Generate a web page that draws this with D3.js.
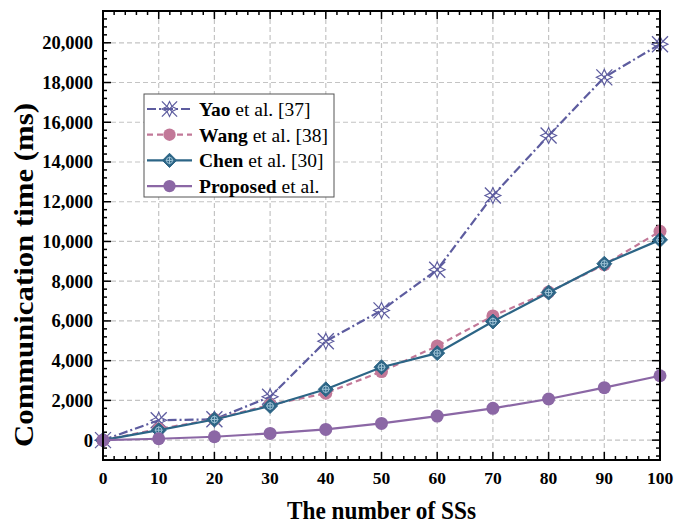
<!DOCTYPE html>
<html>
<head>
<meta charset="utf-8">
<script src="https://cdn.jsdelivr.net/npm/d3@7"></script>
<style>
  body { margin: 0; background: #fff; }
</style>
</head>
<body>
<script>
// data
const ssCounts = [0, 10, 20, 30, 40, 50, 60, 70, 80, 90, 100];
const yaoTimes = [0, 1000, 1050, 2180, 4980, 6530, 8580, 12310, 15330, 18260, 19930];
const wangTimes = [0, 560, 1050, 1780, 2360, 3450, 4740, 6250, 7450, 8830, 10510];
const chenTimes = [0, 500, 1040, 1720, 2560, 3670, 4380, 5970, 7430, 8880, 10080];
const proposedTimes = [0, 70, 170, 340, 540, 840, 1210, 1600, 2070, 2640, 3240];
const yTickValues = [0, 2000, 4000, 6000, 8000, 10000, 12000, 14000, 16000, 18000, 20000];

const series = [
  { bold: "Yao", rest: " et al. [37]", values: yaoTimes, color: "#5d5c9f", dash: "9,3,2,3", marker: "star" },
  { bold: "Wang", rest: " et al. [38]", values: wangTimes, color: "#c27898", dash: "6,4", marker: "circle" },
  { bold: "Chen", rest: " et al. [30]", values: chenTimes, color: "#2c6586", dash: null, marker: "diamond" },
  { bold: "Proposed", rest: " et al.", values: proposedTimes, color: "#8b67a5", dash: null, marker: "circle" }
];

const width = 676, height = 527;
const margin = { left: 103, right: 16, top: 11, bottom: 67 };
const serif = "'Liberation Serif', 'Times New Roman', 'DejaVu Serif', serif";

const svg = d3.select("body").append("svg")
  .attr("width", width)
  .attr("height", height)
  .attr("font-family", serif)
  .style("font-family", serif);

const x = d3.scaleLinear().domain([0, 100]).range([margin.left, width - margin.right]);
const y = d3.scaleLinear().domain([-1000, 21600]).range([height - margin.bottom, margin.top]);

const x0 = x.range()[0], x1 = x.range()[1];
const y0 = y.range()[0], y1 = y.range()[1];

// grid
const grid = svg.append("g").attr("stroke", "#c4c4c4").attr("stroke-width", 1.2).attr("stroke-dasharray", "5,3");
grid.selectAll(".gx").data(d3.range(10, 100, 10)).enter().append("line")
  .attr("x1", d => x(d)).attr("x2", d => x(d)).attr("y1", y1).attr("y2", y0);
grid.selectAll(".gy").data(yTickValues).enter().append("line")
  .attr("y1", d => y(d)).attr("y2", d => y(d)).attr("x1", x0).attr("x2", x1);

// ticks on all four sides, pointing in
const ticks = svg.append("g").attr("stroke", "#000").attr("stroke-width", 1.5);
const xMinor = d3.range(0, 101, 2);
const yMinor = d3.range(-800, 21600, 400);
ticks.selectAll(".xb").data(xMinor).enter().append("line")
  .attr("x1", d => x(d)).attr("x2", d => x(d))
  .attr("y1", y0).attr("y2", d => y0 - (d % 10 === 0 ? 8 : 4));
ticks.selectAll(".xt").data(xMinor).enter().append("line")
  .attr("x1", d => x(d)).attr("x2", d => x(d))
  .attr("y1", y1).attr("y2", d => y1 + (d % 10 === 0 ? 8 : 4));
ticks.selectAll(".yl").data(yMinor).enter().append("line")
  .attr("y1", d => y(d)).attr("y2", d => y(d))
  .attr("x1", x0).attr("x2", d => x0 + (d % 2000 === 0 ? 8 : 4));
ticks.selectAll(".yr").data(yMinor).enter().append("line")
  .attr("y1", d => y(d)).attr("y2", d => y(d))
  .attr("x1", x1).attr("x2", d => x1 - (d % 2000 === 0 ? 8 : 4));

// tick labels
svg.append("g").selectAll("text").data(ssCounts).enter().append("text")
  .attr("x", d => x(d)).attr("y", 484)
  .attr("text-anchor", "middle")
  .attr("font-size", 17.5).attr("font-weight", "bold")
  .text(d => d);
const fmt = d3.format(",");
svg.append("g").selectAll("text").data(yTickValues).enter().append("text")
  .attr("x", x0 - 10).attr("y", d => y(d)).attr("dy", "0.35em")
  .attr("text-anchor", "end")
  .attr("font-size", 18.5).attr("font-weight", "bold")
  .text(d => fmt(d));

// axis titles
svg.append("text")
  .attr("x", (x0 + x1) / 2).attr("y", 519)
  .attr("text-anchor", "middle")
  .attr("font-size", 25).attr("font-weight", "bold")
  .attr("textLength", 189).attr("lengthAdjust", "spacingAndGlyphs")
  .text("The number of SSs");
svg.append("text")
  .attr("transform", "translate(33,275) rotate(-90)")
  .attr("text-anchor", "middle")
  .attr("font-size", 27).attr("font-weight", "bold")
  .attr("textLength", 344).attr("lengthAdjust", "spacingAndGlyphs")
  .text("Communication time (ms)");

function drawMarker(g, s, cx, cy, scale) {
  const k = scale || 1;
  if (s.marker === "circle") {
    g.append("circle").attr("cx", cx).attr("cy", cy).attr("r", 6.5 * k).attr("fill", s.color);
  } else if (s.marker === "diamond") {
    const r = 7.5 * k;
    g.append("path")
      .attr("d", `M${cx},${cy - r}L${cx + r},${cy}L${cx},${cy + r}L${cx - r},${cy}Z`)
      .attr("fill", s.color).attr("stroke", s.color).attr("stroke-width", 1);
    g.append("circle").attr("cx", cx).attr("cy", cy).attr("r", 3.2 * k)
      .attr("fill", "none").attr("stroke", "#9fc3d6").attr("stroke-width", 1);
    g.append("path")
      .attr("d", `M${cx - 4 * k},${cy}H${cx + 4 * k}M${cx},${cy - 4 * k}V${cy + 4 * k}`)
      .attr("stroke", "#9fc3d6").attr("stroke-width", 1);
  } else {
    const r = 8 * k, a = 2.6 * k;
    g.append("path")
      .attr("d", `M${cx - r},${cy - r}L${cx + r},${cy + r}M${cx - r},${cy + r}L${cx + r},${cy - r}`)
      .attr("stroke", s.color).attr("stroke-width", 1.3);
    g.append("path")
      .attr("d", `M${cx},${cy - r}L${cx + a},${cy - a}L${cx + r},${cy}L${cx + a},${cy + a}L${cx},${cy + r}L${cx - a},${cy + a}L${cx - r},${cy}L${cx - a},${cy - a}Z`)
      .attr("fill", "none").attr("stroke", s.color).attr("stroke-width", 1.1);
  }
}

// lines and markers
const line = d3.line().x((d, i) => x(ssCounts[i])).y(d => y(d));
const plot = svg.append("g");
series.forEach(s => {
  const g = plot.append("g");
  g.append("path")
    .attr("d", line(s.values))
    .attr("fill", "none")
    .attr("stroke", s.color)
    .attr("stroke-width", 2.2)
    .attr("stroke-dasharray", s.dash);
  s.values.forEach((v, i) => drawMarker(g, s, x(ssCounts[i]), y(v)));
});

// frame
svg.append("rect")
  .attr("x", x0).attr("y", y1)
  .attr("width", x1 - x0).attr("height", y0 - y1)
  .attr("fill", "none").attr("stroke", "#000").attr("stroke-width", 2);

// legend
const legend = svg.append("g").attr("transform", "translate(144,94)");
legend.append("rect")
  .attr("width", 190).attr("height", 103)
  .attr("fill", "#fff").attr("stroke", "#555").attr("stroke-width", 1);
series.forEach((s, i) => {
  const ly = 15 + i * 25.7;
  legend.append("line")
    .attr("x1", 3).attr("x2", 48).attr("y1", ly).attr("y2", ly)
    .attr("stroke", s.color).attr("stroke-width", 2.2)
    .attr("stroke-dasharray", s.dash);
  drawMarker(legend, s, 25.5, ly, 0.95);
  const t = legend.append("text")
    .attr("x", 55).attr("y", ly).attr("dy", "0.35em")
    .attr("font-size", 19.5);
  t.append("tspan").attr("font-weight", "bold").text(s.bold);
  t.append("tspan").text(s.rest);
});
</script>
</body>
</html>
